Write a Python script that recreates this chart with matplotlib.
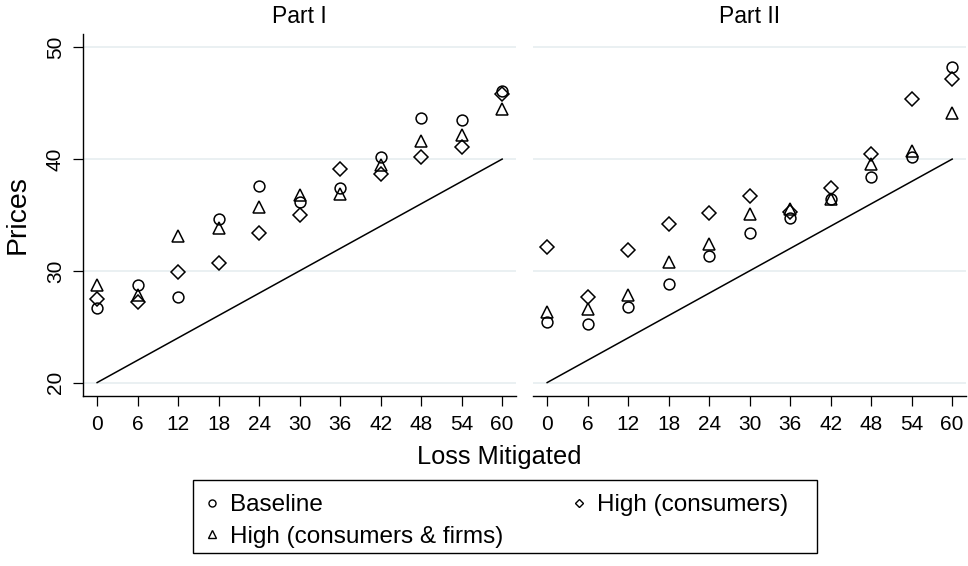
from __future__ import annotations

import matplotlib

matplotlib.use("Agg")
import matplotlib.pyplot as plt
from matplotlib.lines import Line2D
from matplotlib.patches import Rectangle

plt.rcParams["font.family"] = ["Liberation Sans", "DejaVu Sans"]

loss = [0, 6, 12, 18, 24, 30, 36, 42, 48, 54, 60]

# Part I
p1_baseline = [26.7, 28.7, 27.7, 34.6, 37.6, 36.2, 37.4, 40.2, 43.7, 43.5, 46.1]
p1_both = [28.7, 27.8, 33.1, 33.8, 35.7, 36.8, 36.9, 39.5, 41.6, 42.2, 44.5]
p1_consumers = [27.5, 27.2, 29.9, 30.7, 33.4, 35.0, 39.1, 38.7, 40.2, 41.1, 45.8]

# Part II
p2_baseline = [25.4, 25.2, 26.8, 28.8, 31.3, 33.4, 34.7, 36.4, 38.4, 40.2, 48.2]
p2_both = [26.3, 26.6, 27.8, 30.8, 32.4, 35.1, 35.5, 36.4, 39.6, 40.7, 44.1]
p2_consumers = [32.1, 27.7, 31.9, 34.2, 35.2, 36.7, 35.3, 37.4, 40.5, 45.4, 47.2]

# reference line: price = 20 + loss / 3
ref_x = [0, 60]
ref_y = [20, 40]

panel_titles = ["Part I", "Part II"]
series_labels = ["Baseline", "High (consumers & firms)", "High (consumers)"]
y_ticks = [20, 30, 40, 50]

GRID = "#e6eef0"
MARKERS = {"Baseline": ("o", 7.8), "High (consumers & firms)": ("^", 8.6),
           "High (consumers)": ("D", 7.0)}


def _panel(ax, title, series, show_y):
    for label, ys in zip(series_labels, series):
        marker, ms = MARKERS[label]
        ax.plot(loss, ys, linestyle="none", marker=marker, markersize=ms,
                markerfacecolor="none", markeredgecolor="black",
                markeredgewidth=1.1, zorder=3)
    ax.plot(ref_x, ref_y, color="black", linewidth=1.1, zorder=2)

    ax.set_xlim(-2.1, 62)
    ax.set_ylim(18.8, 51.2)
    ax.set_xticks(loss)
    ax.set_yticks(y_ticks)
    ax.yaxis.grid(True, color=GRID, linewidth=1.2)
    ax.set_axisbelow(True)
    ax.set_title(title, fontsize=16.5, pad=8)
    for side in ("top", "right"):
        ax.spines[side].set_visible(False)
    ax.spines["bottom"].set_linewidth(1.0)
    ax.tick_params(axis="x", length=7, width=0.9, labelsize=15, pad=7)
    if show_y:
        ax.spines["left"].set_linewidth(1.0)
        ax.tick_params(axis="y", length=7, width=0.9, labelsize=15, pad=6)
        for t in ax.get_yticklabels():
            t.set_rotation(90)
            t.set_va("center")
        ax.set_ylabel("Prices", fontsize=20.5, labelpad=11)
    else:
        ax.spines["left"].set_visible(False)
        ax.tick_params(axis="y", left=False, labelleft=False)


def main() -> None:
    W, H = 968, 566
    fig = plt.figure(figsize=(W / 100, H / 100), dpi=100)
    ax1 = fig.add_axes([0.0857, 0.3004, 0.447, 0.6396])
    ax2 = fig.add_axes([0.5506, 0.3004, 0.447, 0.6396])

    _panel(ax1, panel_titles[0], [p1_baseline, p1_both, p1_consumers], True)
    _panel(ax2, panel_titles[1], [p2_baseline, p2_both, p2_consumers], False)

    fig.text(0.5155, 1 - 457 / H, "Loss Mitigated", ha="center",
             va="center", fontsize=18.3)

    # legend box drawn separately so the padding matches the original
    fig.patches.append(Rectangle((193 / W, 1 - 553 / H), 624 / W, 73 / H,
                                 transform=fig.transFigure, fill=False,
                                 edgecolor="black", linewidth=1.0))
    handles = []
    for label in series_labels:
        marker, ms = MARKERS[label]
        handles.append(Line2D([], [], linestyle="none", marker=marker,
                              markersize=ms * 0.65, markerfacecolor="none",
                              markeredgecolor="black", markeredgewidth=1.0))
    fig.legend(handles, series_labels, ncol=2, loc="center left",
               bbox_to_anchor=(200 / W, 1 - 521 / H), borderaxespad=0,
               borderpad=0, fontsize=17.5, frameon=False,
               handlelength=1.0, handletextpad=0.25, labelspacing=0.4,
               columnspacing=2.6)

    fig.savefig("out.png", dpi=100)
    plt.close(fig)


if __name__ == "__main__":
    main()
